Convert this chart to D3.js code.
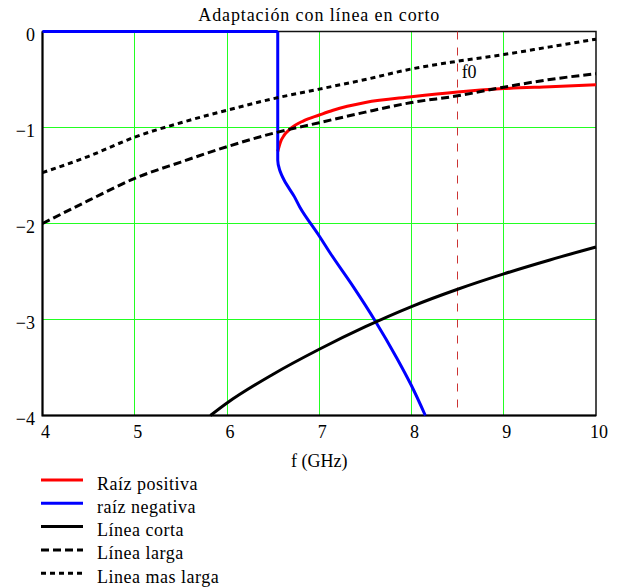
<!DOCTYPE html>
<html>
<head>
<meta charset="utf-8">
<script src="https://cdn.jsdelivr.net/npm/d3@7"></script>
<style>
  body { margin: 0; background: #fff; }
  text { font-family: "Liberation Serif", "DejaVu Serif", serif; }
</style>
</head>
<body>
<svg id="chart"></svg>
<script>
// Series (f in GHz)
const posF = [6.55, 6.58, 6.62, 6.69, 6.83, 7.0, 7.15, 7.5, 8.0, 8.5, 9.0, 9.5, 10.0];
const posY = [-1.25, -1.15, -1.08, -1.01, -0.93, -0.87, -0.82, -0.74, -0.68, -0.63, -0.595, -0.575, -0.555];

const negF = [4, 6.55, 6.55, 6.57, 6.62, 6.73, 6.79, 7.0, 7.12, 7.37, 7.61, 7.84, 7.995, 8.15];
const negY = [0, 0, -1.34, -1.44, -1.55, -1.72, -1.83, -2.13, -2.31, -2.66, -3.02, -3.40, -3.68, -4.0];

const cortaF = [5.82, 6.0, 6.5, 7.0, 7.5, 8.0, 8.5, 9.0, 9.5, 10.0];
const cortaY = [-4.0, -3.87, -3.57, -3.31, -3.075, -2.865, -2.685, -2.525, -2.38, -2.245];

const largaF = [4, 4.5, 5, 5.5, 6, 6.5, 7, 7.5, 8, 8.5, 9, 9.5, 10];
const largaY = [-2.0, -1.76, -1.53, -1.36, -1.20, -1.06, -0.95, -0.84, -0.74, -0.67, -0.58, -0.50, -0.44];

const masLargaF = [4, 4.5, 5, 5.5, 6, 6.5, 7, 7.5, 8, 8.5, 9, 9.5, 10];
const masLargaY = [-1.47, -1.30, -1.10, -0.95, -0.82, -0.70, -0.60, -0.50, -0.39, -0.31, -0.24, -0.16, -0.08];

const markerF = [8.5];
const markerLabels = ["f0"];

const xTicks = [4, 5, 6, 7, 8, 9, 10];
const yTicks = [0, -1, -2, -3, -4];

const legendNames = ["Raíz positiva", "raíz negativa", "Línea corta", "Línea larga", "Linea mas larga"];

const width = 633, height = 588;
const margin = {left: 42.5, right: 37, top: 31.5, bottom: 172.5};

const x = d3.scaleLinear().domain([4, 10]).range([margin.left, width - margin.right]);
const y = d3.scaleLinear().domain([-4, 0]).range([height - margin.bottom, margin.top]);
const crisp = v => Math.floor(v) + 0.5;

const svg = d3.select("#chart")
  .attr("width", width)
  .attr("height", height)
  .attr("viewBox", [0, 0, width, height]);

// grid
const grid = svg.append("g").attr("stroke", "#22ff22").attr("stroke-width", 1);
grid.selectAll("line.v").data(xTicks.slice(1, -1)).join("line")
  .attr("x1", d => crisp(x(d))).attr("x2", d => crisp(x(d)))
  .attr("y1", y(0)).attr("y2", y(-4));
grid.selectAll("line.h").data(yTicks.slice(1, -1)).join("line")
  .attr("x1", x(4)).attr("x2", x(10))
  .attr("y1", d => crisp(y(d))).attr("y2", d => crisp(y(d)));

// frame
svg.append("rect")
  .attr("x", x(4)).attr("y", y(0))
  .attr("width", x(10) - x(4)).attr("height", y(-4) - y(0))
  .attr("fill", "none").attr("stroke", "#111").attr("stroke-width", 1.5);
svg.append("path")
  .attr("d", `M${x(4)},${y(0)}V${y(-4)}H${x(10)}`)
  .attr("fill", "none").attr("stroke", "#000").attr("stroke-width", 2);

// f0 marker
svg.append("g").selectAll("line").data(markerF).join("line")
  .attr("x1", d => crisp(x(d))).attr("x2", d => crisp(x(d)))
  .attr("y1", y(0)).attr("y2", y(-4))
  .attr("stroke", "#cc3333").attr("stroke-width", 1)
  .attr("stroke-dasharray", "8,8");
svg.append("g").selectAll("text").data(markerF).join("text")
  .attr("x", d => x(d) + 4).attr("y", y(-0.48))
  .attr("font-size", 18)
  .text((d, i) => markerLabels[i]);

const series = [
  {f: posF, v: posY, color: "#ff0000", dash: null},
  {f: negF, v: negY, color: "#0000ff", dash: null},
  {f: cortaF, v: cortaY, color: "#000", dash: null},
  {f: largaF, v: largaY, color: "#000", dash: "8,4"},
  {f: masLargaF, v: masLargaY, color: "#000", dash: "5,4"}
];

const lineX = d3.line().x(d => x(d[0])).y(d => y(d[1])).curve(d3.curveMonotoneX);
const lineY = d3.line().x(d => x(d[0])).y(d => y(d[1])).curve(d3.curveMonotoneY);

const plot = svg.append("g");
series.forEach((s, k) => {
  const pts = s.f.map((f, i) => [f, s.v[i]]);
  let d;
  if (k === 1) {
    // flat part, then the branch that is monotone in y
    const flat = pts.slice(0, 2);
    const branch = pts.slice(1).reverse();
    d = d3.line().x(p => x(p[0])).y(p => y(p[1]))(flat) + lineY(branch);
  } else {
    d = lineX(pts);
  }
  plot.append("path")
    .attr("fill", "none")
    .attr("stroke", s.color)
    .attr("stroke-width", 3)
    .attr("stroke-dasharray", s.dash)
    .attr("d", d);
});

// tick labels
svg.append("g").selectAll("text").data(yTicks).join("text")
  .attr("x", 35).attr("y", d => y(d) + 9)
  .attr("text-anchor", "end")
  .attr("font-size", 18)
  .text(d => d === 0 ? "0" : "\u2212" + Math.abs(d));
svg.append("g").selectAll("text").data(xTicks).join("text")
  .attr("x", d => x(d) + 3).attr("y", 438)
  .attr("text-anchor", "middle")
  .attr("font-size", 18)
  .text(d => d);

// title and axis label
svg.append("text")
  .attr("x", (x(4) + x(10)) / 2).attr("y", 21)
  .attr("text-anchor", "middle").attr("font-size", 18)
  .attr("letter-spacing", 0.9)
  .text("Adaptación con línea en corto");
svg.append("text")
  .attr("x", (x(4) + x(10)) / 2).attr("y", 467)
  .attr("text-anchor", "middle").attr("font-size", 18)
  .text("f (GHz)");

// legend
const leg = svg.append("g").selectAll("g").data(series).join("g")
  .attr("transform", (d, i) => `translate(0,${480 + i * 23.3})`);
leg.append("line")
  .attr("x1", 41).attr("x2", 83)
  .attr("stroke", d => d.color).attr("stroke-width", 3)
  .attr("stroke-dasharray", d => d.dash);
leg.append("text")
  .attr("x", 97).attr("y", 9.5)
  .attr("font-size", 18)
  .attr("letter-spacing", 0.5)
  .text((d, i) => legendNames[i]);
</script>
</body>
</html>
